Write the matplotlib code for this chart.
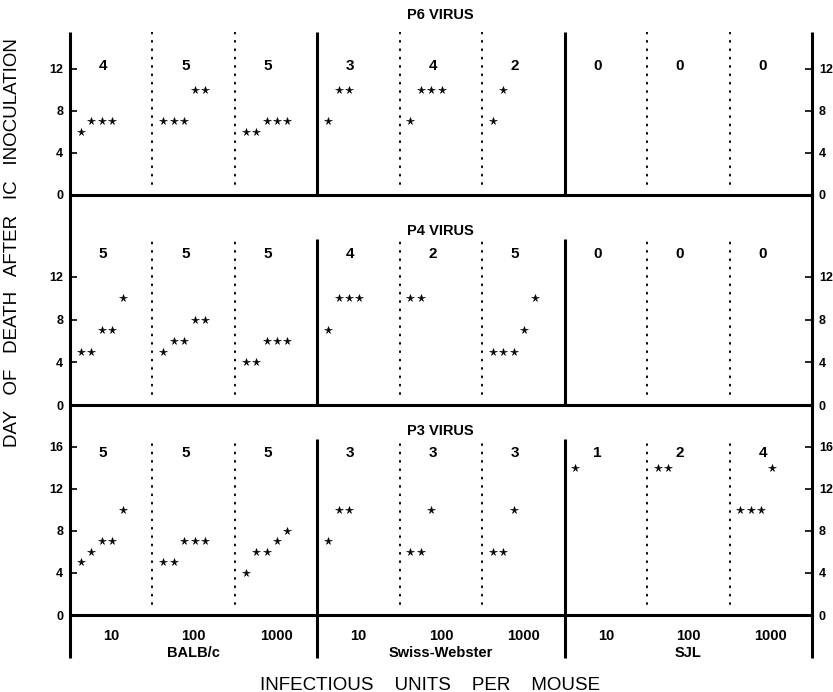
import matplotlib
matplotlib.use("Agg")
import matplotlib.pyplot as plt
from matplotlib.lines import Line2D

plt.rcParams["font.family"] = ["Liberation Sans", "DejaVu Sans"]

# ---------------- data (day of death of each mouse that died) ----------------
strains = ["BALB/c", "Swiss-Webster", "SJL"]
doses = ["10", "100", "1000"]

p6_balb = [[6, 7, 7, 7], [7, 7, 7, 10, 10], [6, 6, 7, 7, 7]]
p6_swiss = [[7, 10, 10], [7, 10, 10, 10], [7, 10]]
p6_sjl = [[], [], []]

p4_balb = [[5, 5, 7, 7, 10], [5, 6, 6, 8, 8], [4, 4, 6, 6, 6]]
p4_swiss = [[7, 10, 10, 10], [10, 10], [5, 5, 5, 7, 10]]
p4_sjl = [[], [], []]

p3_balb = [[5, 6, 7, 7, 10], [5, 5, 7, 7, 7], [4, 6, 6, 7, 8]]
p3_swiss = [[7, 10, 10], [6, 6, 10], [6, 6, 10]]
p3_sjl = [[14], [14, 14], [10, 10, 10, 14]]

panel_titles = ["P6 VIRUS", "P4 VIRUS", "P3 VIRUS"]
panel_data = [p6_balb + p6_swiss + p6_sjl,
              p4_balb + p4_swiss + p4_sjl,
              p3_balb + p3_swiss + p3_sjl]
panel_yticks = [[0, 4, 8, 12], [0, 4, 8, 12], [0, 4, 8, 12, 16]]

# ---------------- layout ----------------
W, H = 833, 692
fig = plt.figure(figsize=(8.33, 6.92), dpi=100)

def fx(px):
    return px / W

def fy(py):
    return 1 - py / H

X0, X1 = 70, 812
# (top px, baseline px, ylim top, count label y, title y px)
layout = [(32, 195, 15.5, 12.3, 15),
          (239, 405, 15.56, 14.2, 231),
          (439, 615, 16.76, 15.4, 431)]

slot0, slot_step = 0.13, 0.127
axes = []
for k, (top, base, ytop, cy, ty) in enumerate(layout):
    ax = fig.add_axes([fx(X0), fy(base), fx(X1 - X0), (base - top) / H])
    axes.append(ax)
    ax.set_xlim(0, 9)
    ax.set_ylim(0, ytop)
    for s in ["top", "left", "right"]:
        ax.spines[s].set_visible(False)
    ax.spines["bottom"].set_linewidth(2.2)
    ax.set_yticks(panel_yticks[k])
    ax.set_yticklabels([str(t) for t in panel_yticks[k]], fontsize=9, fontweight="bold")
    ax.tick_params(axis="y", direction="in", length=5, width=1.2, left=True, right=True,
                   labelleft=True, labelright=True, pad=5)
    # separators between strains
    for xs in [3, 6]:
        ax.plot([xs, xs], [0, ytop], color="black", lw=2.2, solid_capstyle="butt")
    # dotted lines between doses
    for xd in [1, 2, 4, 5, 7, 8]:
        ax.plot([xd, xd], [1, ytop], color="black", lw=1.4,
                linestyle=(0, (0.5, 3.8)), dash_capstyle="round")
    # points and counts
    for g, vals in enumerate(panel_data[k]):
        xs_ = [g + slot0 + slot_step * i for i in range(len(vals))]
        ax.plot(xs_, vals, linestyle="none", marker="*", markersize=5.5,
                color="black", markeredgewidth=0.4)
        ax.text(g + 0.4, cy, str(len(vals)), ha="center", va="center",
                fontsize=11, fontweight="bold")
    fig.text(fx(440), fy(ty), panel_titles[k], ha="center", va="center",
             fontsize=10.5, fontweight="bold")
    if k < 2:
        ax.set_xticks([])
    else:
        ax.set_xticks([g + 0.5 for g in range(9)])
        ax.set_xticklabels(doses * 3, fontsize=10.5, fontweight="bold")
        ax.tick_params(axis="x", length=0, pad=10)
        ext = -(658 - 615) / 10.5
        for xs in [3, 6]:
            ax.plot([xs, xs], [ext, 0], color="black", lw=2.2, clip_on=False,
                    solid_capstyle="butt")
        for i, st in enumerate(strains):
            ax.text(1.5 + 3 * i, -(653 - 615) / 10.5, st, ha="center", va="center",
                    fontsize=10.5, fontweight="bold")

# continuous left/right axis lines
for xp in [X0, X1]:
    fig.add_artist(Line2D([fx(xp), fx(xp)], [fy(32), fy(658)], transform=fig.transFigure,
                          color="black", lw=2.2, solid_capstyle="butt"))

fig.text(fx(430), fy(685), "INFECTIOUS    UNITS    PER    MOUSE", ha="center", va="center",
         fontsize=13.5)
fig.text(fx(13), fy(243), "DAY   OF   DEATH   AFTER   IC   INOCULATION", ha="center",
         va="center", rotation=90, fontsize=13.5)

fig.savefig("out.png", dpi=100)
